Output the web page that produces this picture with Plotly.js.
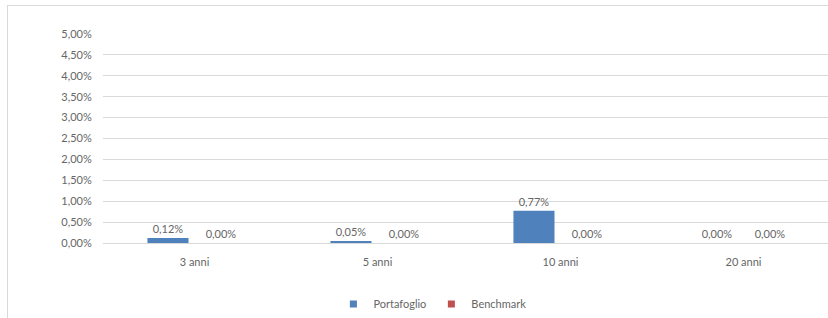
<!DOCTYPE html>
<html>
<head>
<meta charset="utf-8">
<script src="https://cdn.plot.ly/plotly-3.0.1.min.js"></script>
<style>
html,body{margin:0;padding:0;background:#fff;overflow:hidden;width:828px;height:318px;}
#chart{position:absolute;left:7px;top:5px;width:840px;height:330px;border:1px solid #d9d9d9;}
</style>
</head>
<body>
<div id="chart"></div>
<script>
var categories = ["3 anni", "5 anni", "10 anni", "20 anni"];
var portafoglio = [0.0012, 0.0005, 0.0077, 0.0000];
var benchmark = [0.0000, 0.0000, 0.0000, 0.0000];
var seriesNames = ["Portafoglio", "Benchmark"];
var seriesColors = ["#4f81bd", "#c0504d"];
var yTicks = [0, 0.005, 0.01, 0.015, 0.02, 0.025, 0.03, 0.035, 0.04, 0.045, 0.05];

var font = {family: "Lato, 'Open Sans', sans-serif", size: 11, color: "#666666"};

var traces = [portafoglio, benchmark].map(function (vals, i) {
  return {
    type: "bar",
    x: categories,
    y: vals,
    name: seriesNames[i],
    marker: {color: seriesColors[i]},
    text: vals,
    texttemplate: "%{y:.2%}",
    textposition: "outside",
    textfont: font,
    cliponaxis: false,
    showlegend: false,
    hoverinfo: "x+y"
  };
});
seriesNames.forEach(function (n, i) {
  traces.push({
    type: "scatter", mode: "markers", x: [null], y: [null], name: n,
    marker: {symbol: "square", size: 7, color: seriesColors[i]},
    showlegend: true, hoverinfo: "skip"
  });
});

var layout = {
  width: 840,
  height: 330,
  margin: {l: 95, r: 13, t: 28, b: 93},
  paper_bgcolor: "#ffffff",
  plot_bgcolor: "#ffffff",
  separators: ",.",
  font: font,
  barmode: "group",
  bargap: 0.42,
  bargroupgap: 0.226,
  showlegend: true,
  legend: {
    orientation: "h", x: 0.45, xanchor: "center", y: -0.292, yanchor: "middle",
    font: font, itemwidth: 30, traceorder: "normal"
  },
  xaxis: {
    type: "category",
    showgrid: false,
    showline: false,
    zeroline: false,
    ticks: "outside", ticklen: 9, tickcolor: "rgba(0,0,0,0)",
    tickfont: font
  },
  yaxis: {
    range: [0, 0.05],
    tickvals: yTicks,
    tickformat: ".2%",
    showgrid: true,
    gridcolor: "#d9d9d9",
    gridwidth: 1,
    zeroline: true,
    zerolinecolor: "#d9d9d9",
    zerolinewidth: 1,
    showline: false,
    ticks: "outside", ticklen: 8, tickcolor: "rgba(0,0,0,0)",
    tickfont: font
  }
};

Plotly.newPlot("chart", traces, layout, {displayModeBar: false, staticPlot: true});
</script>
</body>
</html>
